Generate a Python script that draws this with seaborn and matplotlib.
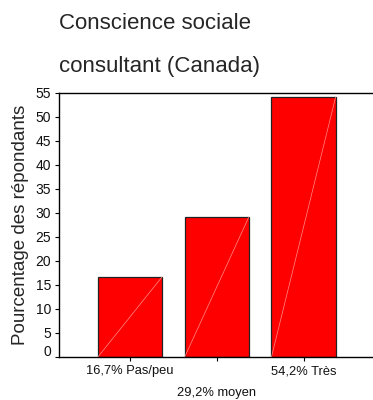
import matplotlib
matplotlib.use("Agg")
import matplotlib.pyplot as plt
import matplotlib.transforms as mtransforms
import seaborn as sns
import pandas as pd

# Response categories and share of respondents (%)
categories = ["Pas/peu", "moyen", "Très"]
percentages = [16.7, 29.2, 54.2]
y_ticks = [0, 5, 10, 15, 20, 25, 30, 35, 40, 45, 50, 55]

title_lines = ["Conscience sociale", "consultant (Canada)"]
y_label = "Pourcentage des répondants"

sns.set_theme(style="white")
plt.rcParams["font.family"] = ["Liberation Sans", "DejaVu Sans"]

df = pd.DataFrame({"categorie": categories, "pourcentage": percentages})

fig = plt.figure(figsize=(3.73, 4.0), dpi=100)
ax = fig.add_axes([59 / 373, 43 / 400, 314 / 373, 264 / 400])

sns.barplot(data=df, x="categorie", y="pourcentage", color="#ff0000",
            saturation=1, width=0.74, edgecolor="#222222", linewidth=0.9,
            ax=ax)

# thin light diagonal across each bar, corner to corner
for bar in ax.patches:
    x0, y0 = bar.get_x(), bar.get_y()
    x1, y1 = x0 + bar.get_width(), y0 + bar.get_height()
    ax.plot([x0, x1], [y0, y1], color="#ff8c8c", linewidth=0.5, zorder=3)

ax.set_xlim(-0.818, 2.80)
ax.set_ylim(0, 55)
ax.set_yticks(y_ticks)
ax.set_yticklabels([str(t) for t in y_ticks], fontsize=10)

tick_labels = [f"{v:.1f}".replace(".", ",") + "% " + c
               for v, c in zip(percentages, categories)]
ax.set_xticks(range(len(categories)))
ax.set_xticklabels(tick_labels, fontsize=9.3)

ax.tick_params(axis="x", length=3, width=0.8, color="black", direction="out",
               bottom=True, pad=3.0, labelcolor="#111111")
ax.tick_params(axis="y", length=3, width=0.8, color="black", direction="out",
               left=True, pad=2.5, labelcolor="#111111")
# middle category label on a second row
ax.xaxis.get_major_ticks()[1].set_pad(18.5)

# the zero label sits a little above the baseline
zero_lbl = ax.yaxis.get_major_ticks()[0].label1
zero_lbl.set_transform(zero_lbl.get_transform() +
                       mtransforms.ScaledTranslation(0, 7 / 100, fig.dpi_scale_trans))

ax.set_xlabel("")
ax.set_ylabel(y_label, fontsize=13.5, labelpad=5)

for side in ["left", "bottom", "top"]:
    ax.spines[side].set_visible(True)
    ax.spines[side].set_color("black")
    ax.spines[side].set_linewidth(1.0)
ax.spines["right"].set_visible(False)

fig.text(59 / 373, 1 - 29 / 400, title_lines[0], fontsize=16, va="baseline", ha="left")
fig.text(59 / 373, 1 - 72 / 400, title_lines[1], fontsize=16, va="baseline", ha="left")

fig.savefig("out.png", dpi=100, facecolor="white")
